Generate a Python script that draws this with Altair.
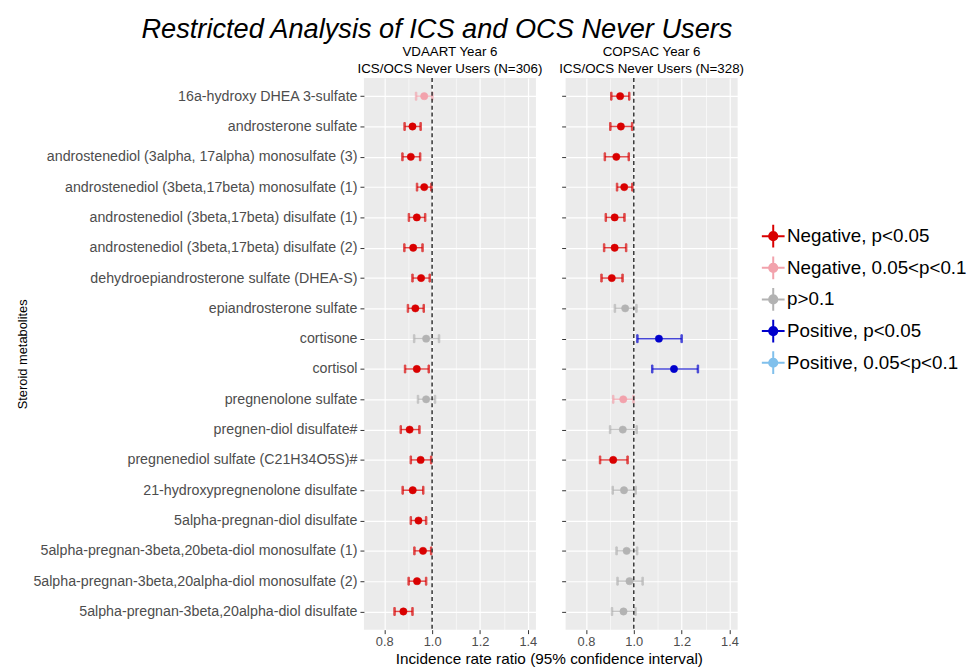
import altair as alt
import pandas as pd

metabolites = [
    "16a-hydroxy DHEA 3-sulfate",
    "androsterone sulfate",
    "androstenediol (3alpha, 17alpha) monosulfate (3)",
    "androstenediol (3beta,17beta) monosulfate (1)",
    "androstenediol (3beta,17beta) disulfate (1)",
    "androstenediol (3beta,17beta) disulfate (2)",
    "dehydroepiandrosterone sulfate (DHEA-S)",
    "epiandrosterone sulfate",
    "cortisone",
    "cortisol",
    "pregnenolone sulfate",
    "pregnen-diol disulfate#",
    "pregnenediol sulfate (C21H34O5S)#",
    "21-hydroxypregnenolone disulfate",
    "5alpha-pregnan-diol disulfate",
    "5alpha-pregnan-3beta,20beta-diol monosulfate (1)",
    "5alpha-pregnan-3beta,20alpha-diol monosulfate (2)",
    "5alpha-pregnan-3beta,20alpha-diol disulfate",
]

categories = ["Negative, p<0.05", "Negative, 0.05<p<0.1", "p>0.1",
              "Positive, p<0.05", "Positive, 0.05<p<0.1"]
cat_colors = ["#D90000", "#F2A2AC", "#B3B3B3", "#0000CC", "#80C0EC"]

# VDAART Year 6
vd_irr = [0.967, 0.918, 0.911, 0.967, 0.936, 0.921, 0.954, 0.930, 0.975,
          0.936, 0.975, 0.906, 0.952, 0.919, 0.943, 0.962, 0.937, 0.880]
vd_lo = [0.933, 0.885, 0.876, 0.937, 0.903, 0.884, 0.918, 0.899, 0.925,
         0.887, 0.941, 0.869, 0.911, 0.877, 0.911, 0.926, 0.902, 0.843]
vd_hi = [1.001, 0.952, 0.950, 0.997, 0.971, 0.960, 0.990, 0.965, 1.029,
         0.986, 1.012, 0.947, 0.996, 0.963, 0.975, 0.996, 0.975, 0.918]
vd_sig = [1, 0, 0, 0, 0, 0, 0, 0, 2, 0, 2, 0, 0, 0, 0, 0, 0, 0]

# COPSAC Year 6
cop_irr = [0.943, 0.946, 0.927, 0.960, 0.920, 0.920, 0.908, 0.964, 1.105,
           1.168, 0.956, 0.954, 0.914, 0.959, None, 0.970, 0.982, 0.957]
cop_lo = [0.906, 0.902, 0.879, 0.930, 0.883, 0.876, 0.865, 0.921, 1.015,
          1.077, 0.914, 0.901, 0.859, 0.912, None, 0.928, 0.932, 0.909]
cop_hi = [0.981, 0.993, 0.979, 0.994, 0.961, 0.968, 0.953, 1.011, 1.200,
          1.268, 0.999, 1.012, 0.974, 1.008, None, 1.014, 1.037, 1.007]
cop_sig = [0, 0, 0, 0, 0, 0, 0, 2, 3, 3, 1, 2, 0, 2, None, 2, 2, 2]

x_ticks = [0.8, 0.9, 1.0, 1.1, 1.2, 1.3, 1.4]
x_domain = [0.715, 1.434]
ref_line = [1.0]

FONT = "Liberation Sans"


def make_df(irr, lo, hi, sig):
    rows = []
    for m, a, b, c, s in zip(metabolites, irr, lo, hi, sig):
        if a is None:
            continue
        rows.append({"metabolite": m, "irr": a, "lo": b, "hi": c,
                     "sig": categories[s]})
    return pd.DataFrame(rows)


legend = alt.Legend(
    title=None, orient="none", legendX=401, legendY=147,
    symbolType="M-1,0H1M0,-1V1M-0.36,0A0.36,0.36,0,1,0,0.36,0A0.36,0.36,0,1,0,-0.36,0Z",
    symbolSize=530, symbolStrokeWidth=2, labelFontSize=19, labelFont=FONT,
    labelColor="#000000", rowPadding=0, labelOffset=1, symbolOpacity=1,
    labelLimit=400,
)
scale = alt.Scale(domain=categories, range=cat_colors)

minor_test = "round(datum.value*10) % 2 == 1"


def panel(df, title_lines, first):
    y_enc = alt.Y(
        "metabolite:N",
        sort=metabolites,
        scale=alt.Scale(type="point", domain=metabolites, padding=0.6),
        axis=alt.Axis(
            title="Steroid metabolites" if first else None,
            labels=first,
            labelFontSize=14.4, labelFont=FONT, labelColor="#4D4D4D",
            labelPadding=3, labelLimit=500,
            titleFontSize=13, titleFont=FONT, titleFontWeight="normal",
            titleColor="#000000", titleX=-338,
            tickSize=4, tickColor="#333333", tickWidth=1,
            domain=False, grid=True, gridColor="#FFFFFF", gridWidth=1.2,
        ),
    )
    x_axis = alt.Axis(
        values=x_ticks,
        labelExpr="round(datum.value*10) % 2 == 0 ? format(datum.value, '.1f') : ''",
        labelFontSize=13, labelFont=FONT, labelColor="#4D4D4D",
        tickColor="#333333", labelPadding=2,
        tickSize={"condition": {"test": minor_test, "value": 0}, "value": 4},
        domain=False, grid=True, gridColor="#FFFFFF",
        gridWidth={"condition": {"test": minor_test, "value": 0.6}, "value": 1.2},
        title="Incidence rate ratio (95% confidence interval)" if first else None,
        titleFontSize=15.5, titleFont=FONT, titleFontWeight="normal",
        titleColor="#000000", titlePadding=3,
        titleX=187, titleAnchor="start", titleAlign="center",
    )
    x_scale = alt.Scale(domain=x_domain, nice=False, zero=False)
    base = alt.Chart(df)
    rule = base.mark_rule(strokeWidth=1.5, opacity=0.7).encode(
        x=alt.X("lo:Q", scale=x_scale, axis=x_axis),
        x2="hi:Q",
        y=y_enc,
        stroke=alt.Stroke("sig:N", scale=scale, legend=legend),
    )
    cap_lo = base.mark_tick(size=8, thickness=1.5, opacity=0.7).encode(
        x=alt.X("lo:Q", scale=x_scale, axis=x_axis),
        y=y_enc,
        stroke=alt.Stroke("sig:N", scale=scale, legend=legend),
        fill=alt.Fill("sig:N", scale=scale, legend=legend),
    )
    cap_hi = base.mark_tick(size=8, thickness=1.5, opacity=0.7).encode(
        x=alt.X("hi:Q", scale=x_scale, axis=x_axis),
        y=y_enc,
        stroke=alt.Stroke("sig:N", scale=scale, legend=legend),
        fill=alt.Fill("sig:N", scale=scale, legend=legend),
    )
    pts = base.mark_point(filled=True, size=55, opacity=1, strokeWidth=0.5).encode(
        x=alt.X("irr:Q", scale=x_scale, axis=x_axis),
        y=y_enc,
        fill=alt.Fill("sig:N", scale=scale, legend=legend),
        stroke=alt.Stroke("sig:N", scale=scale, legend=legend),
    )
    ref = alt.Chart(pd.DataFrame({"ref": ref_line})).mark_rule(
        strokeDash=[4, 3], color="#333333", strokeWidth=1.5
    ).encode(x=alt.X("ref:Q", scale=x_scale, axis=x_axis))
    return alt.layer(rule, cap_lo, cap_hi, ref, pts).properties(
        width=174, height=558,
        title=alt.TitleParams(
            title_lines, fontSize=13.5, font=FONT, fontWeight="normal",
            anchor="middle", offset=2, lineHeight=17, color="#000000",
        ),
    )


left = panel(make_df(vd_irr, vd_lo, vd_hi, vd_sig),
             ["VDAART Year 6", "ICS/OCS Never Users (N=306)"], True)
right = panel(make_df(cop_irr, cop_lo, cop_hi, cop_sig),
              ["COPSAC Year 6", "ICS/OCS Never Users (N=328)"], False)

chart = alt.hconcat(left, right, spacing=30, bounds="flush").properties(
    title=alt.TitleParams(
        "Restricted Analysis of ICS and OCS Never Users",
        fontSize=27.5, font=FONT, fontStyle="italic", fontWeight="normal",
        anchor="start", dx=126, color="#000000", offset=2,
    ),
    padding={"left": 9, "top": 4, "right": 0, "bottom": 0},
).configure_view(fill="#EBEBEB", strokeWidth=0)

chart.save("out.html", embed_options={"renderer": "svg", "actions": False})
